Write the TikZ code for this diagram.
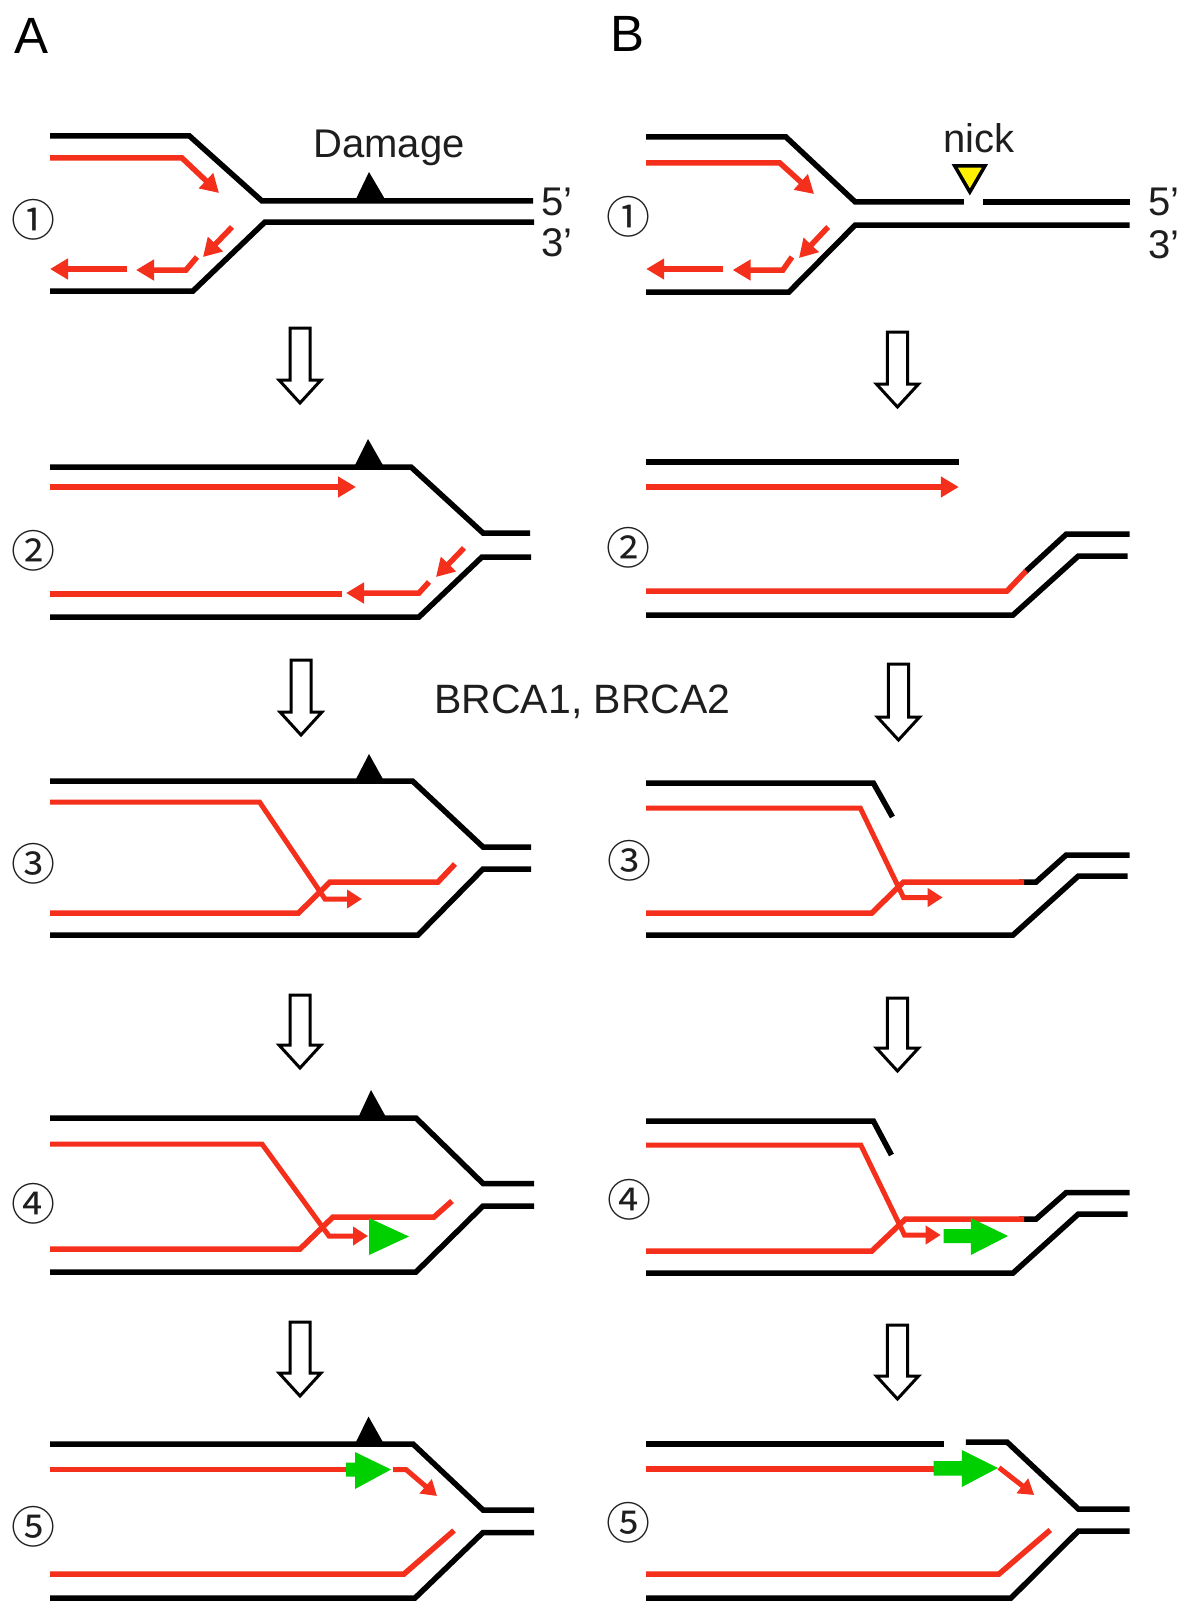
\documentclass[tikz,border=0pt]{standalone}
\usepackage{fontspec}
\setmainfont{Liberation Sans}
\newfontfamily\circfont{Noto Sans CJK JP}
\usetikzlibrary{arrows.meta}
\definecolor{dnared}{HTML}{F4301C}
\definecolor{dnagreen}{HTML}{00D000}
\definecolor{inkgray}{HTML}{1E1E1E}
\tikzset{
  blk/.style={draw=black,line width=5.5pt,miter limit=10},
  rd/.style={draw=dnared,line width=5.5pt,miter limit=10},
  rda/.style={rd,-{Triangle[length=18pt,width=20pt]}},
  rdb/.style={rd,line width=5pt,-{Triangle[length=15pt,width=18pt]}},
  dmg/.style={fill=black},
  grn/.style={fill=dnagreen},
  hol/.style={draw=black,line width=3pt,fill=white,miter limit=10},
  lab/.style={inner sep=0pt,text=inkgray,font=\fontsize{40}{40}\selectfont},
  big/.style={inner sep=0pt,text=black,font=\fontsize{51}{51}\selectfont},
  num/.style={inner sep=0pt,text=inkgray,font=\circfont\fontsize{44}{44}\selectfont}
}
\newcommand{\holl}[3]{% cx, top, tip
  \draw[hol] (#1-10,#2) -- (#1+10,#2) -- (#1+10,#3-23) -- (#1+21,#3-23) -- (#1,#3) -- (#1-21,#3-23) -- (#1-10,#3-23) -- cycle;}
\begin{document}
\begin{tikzpicture}[x=1pt,y=-1pt]
\useasboundingbox[fill=white] (0,0) rectangle (1203,1616);
% headings
\node[big] (hA) at (32,36) {A};
\node[big] (hB) at (627,34) {B};
\node[lab,font=\fontsize{41}{41}\selectfont] (brca) at (582.5,702) {BRCA1, BRCA2};
% ---------- column A, row 1
\draw[blk] (50,136) -- (189.5,136) -- (262,201) -- (533,201);
\draw[blk] (50,291) -- (193,291) -- (265,222) -- (534,222);
\fill[dmg] (369,172) -- (355,201) -- (386,201) -- cycle;
\draw[rda] (50,158) -- (182,158) -- (219,193);
\draw[rda] (232,227) -- (203,257);
\draw[rda] (197,257) -- (186,270) -- (136,270);
\draw[rda] (127,269) -- (50,269);
\node[lab] (dam) at (389,148) {Damage};
\node[lab] (a5) at (557,202) {5’};
\node[lab] (a3) at (557,243) {3’};
\node[num] (a1n) at (33,220) {①};
\holl{300}{328}{403}
% ---------- column A, row 2
\draw[blk] (50,467) -- (411,467) -- (483,533) -- (530,533);
\draw[blk] (50,617) -- (419,617) -- (482,557) -- (531,557);
\fill[dmg] (368,439) -- (354,467) -- (384,467) -- cycle;
\draw[rda] (50,487) -- (356,487);
\draw[rda] (464,548) -- (436,577);
\draw[rda] (429,582) -- (419,593) -- (346,593);
\draw[rd] (342,594) -- (50,594);
\node[num] (a2n) at (33,551) {②};
\holl{301}{660}{735}
% ---------- column A, row 3
\draw[blk] (50,781) -- (412.5,781) -- (483,847) -- (531,847);
\draw[blk] (50,935) -- (418,935) -- (483,869) -- (531,869);
\fill[dmg] (369,754) -- (355,781) -- (384,781) -- cycle;
\draw[rdb] (50,802) -- (259.5,802) -- (325,899) -- (362,899);
\draw[rd] (50,913) -- (298.5,913) -- (330,882) -- (438,882) -- (455,864);
\node[num] (a3n) at (34,864) {③};
\holl{300}{995}{1068}
% ---------- column A, row 4
\draw[blk] (50,1118) -- (416,1118) -- (483,1183.5) -- (534,1183.5);
\draw[blk] (50,1272) -- (416,1272) -- (483,1206) -- (534,1206);
\fill[dmg] (371,1090) -- (358,1118) -- (386.5,1118) -- cycle;
\draw[rdb] (50,1144) -- (262,1144) -- (329,1236) -- (368,1236);
\draw[rd] (50,1249) -- (300,1249) -- (333,1217) -- (434,1217) -- (452,1201);
\fill[grn] (369,1218) -- (409,1236.5) -- (369,1255) -- cycle;
\node[num] (a4n) at (34,1203.5) {④};
\holl{300}{1322}{1396}
% ---------- column A, row 5
\draw[blk] (50,1444) -- (413,1444) -- (483,1510) -- (534,1510);
\draw[blk] (50,1598) -- (415,1598) -- (483,1532.5) -- (534,1532.5);
\fill[dmg] (368.5,1416.5) -- (355,1444) -- (384,1444) -- cycle;
\draw[rd] (50,1469.5) -- (346,1469.5);
\fill[grn] (346,1462.5) -- (355,1462.5) -- (355,1452) -- (391,1469.5) -- (355,1489) -- (355,1476.5) -- (346,1476.5) -- cycle;
\draw[rdb] (393,1469.5) -- (406,1469.5) -- (437,1496);
\draw[rd] (50,1574) -- (404,1574) -- (454,1530.5);
\node[num] (a5n) at (33,1526.5) {⑤};
% ========== column B
\begin{scope}[xscale=1.005,xshift=-3pt]
% row 1
\draw[blk] (646,137) -- (785,137) -- (854,202) -- (962,202);
\draw[blk] (981,202) -- (1127,202);
\draw[blk] (646,292) -- (788,292) -- (854,225) -- (1127,225);
\draw[rda] (646,163) -- (779,163) -- (813,194);
\draw[rda] (827,227) -- (798,258);
\draw[rda] (791,257) -- (782,270) -- (732,270);
\draw[rda] (722,269) -- (646,269);
\draw[draw=black,line width=3.5pt,fill=yellow] (953,166) -- (983,166) -- (968,192) -- cycle;
\node[lab] (nick) at (977,138) {nick};
\node[lab] (b5) at (1161,202) {5’};
\node[lab] (b3) at (1161,245) {3’};
\node[num] (b1n) at (628,217) {①};
\holl{896}{332}{407}
% row 2
\draw[blk] (646,462) -- (957,462);
\draw[rda] (646,487) -- (957,487);
\draw[blk] (1023,572) -- (1064,534) -- (1127,534);
\draw[rd] (646,591) -- (1005,591) -- (1024,571);
\draw[blk] (646,615) -- (1011,615) -- (1076,556) -- (1125,556);
\node[num] (b2n) at (628,548) {②};
\holl{897}{664}{740}
% row 3
\draw[blk] (646,783) -- (872,783) -- (891,817);
\draw[blk] (1017,882) -- (1034,882) -- (1064,855) -- (1127,855);
\draw[blk] (646,935) -- (1011,935) -- (1076,876) -- (1125,876);
\draw[rdb] (646,808) -- (859,808) -- (902,897.5) -- (941,897.5);
\draw[rd] (646,913) -- (870.5,913) -- (902,882) -- (1022,882);
\node[num] (b3n) at (629.5,861) {③};
\holl{896}{998}{1071}
% row 4
\draw[blk] (646,1121) -- (872,1121) -- (890,1155);
\draw[blk] (1017,1219) -- (1034,1219) -- (1064,1192.5) -- (1127,1192.5);
\draw[blk] (646,1273) -- (1011,1273) -- (1076,1214) -- (1125,1214);
\draw[rdb] (646,1145) -- (859.5,1145) -- (903,1235) -- (939,1235);
\draw[rd] (646,1251) -- (870.5,1251) -- (904,1219) -- (1022,1219);
\fill[grn] (942,1229) -- (969,1229) -- (969,1218) -- (1006,1236) -- (969,1255) -- (969,1243) -- (942,1243) -- cycle;
\node[num] (b4n) at (629.5,1200) {④};
\holl{896}{1325}{1399}
% row 5
\draw[blk] (646,1444) -- (942,1444);
\draw[blk] (964,1442) -- (1005,1442) -- (1076,1509) -- (1127,1509);
\draw[blk] (646,1598) -- (1009,1598) -- (1076,1531) -- (1127,1531);
\draw[rd] (646,1469) -- (932,1469);
\fill[grn] (932,1461) -- (960,1461) -- (960,1450) -- (996,1468) -- (960,1487) -- (960,1475.5) -- (932,1475.5) -- cycle;
\draw[rdb] (997,1467.6) -- (1032,1495);
\draw[rd] (646,1574) -- (997,1574) -- (1048,1530);
\node[num] (b5n) at (628,1523) {⑤};
\end{scope}
\end{tikzpicture}
\end{document}
